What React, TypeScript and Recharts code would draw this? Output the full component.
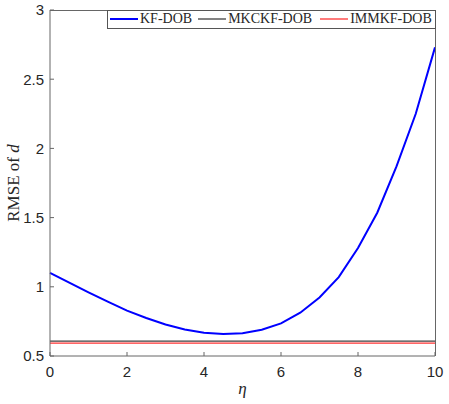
import { LineChart, Line, XAxis, YAxis, Label } from "recharts";

// eta sweep (x axis)
const eta = [0, 0.5, 1, 1.5, 2, 2.5, 3, 3.5, 4, 4.5, 5, 5.5, 6, 6.5, 7, 7.5, 8, 8.5, 9, 9.5, 10];

// RMSE of d for each filter
const kfDob = [1.1, 1.03, 0.96, 0.893, 0.828, 0.775, 0.728, 0.692, 0.668, 0.659, 0.664, 0.69, 0.736, 0.813, 0.923, 1.07, 1.28, 1.535, 1.87, 2.25, 2.73];
const mkckfDob = [0.607, 0.607, 0.607, 0.607, 0.607, 0.607, 0.607, 0.607, 0.607, 0.607, 0.607, 0.607, 0.607, 0.607, 0.607, 0.607, 0.607, 0.607, 0.607, 0.607, 0.607];
const immkfDob = [0.593, 0.593, 0.593, 0.593, 0.593, 0.593, 0.593, 0.593, 0.593, 0.593, 0.593, 0.593, 0.593, 0.593, 0.593, 0.593, 0.593, 0.593, 0.593, 0.593, 0.593];

const xTicks = [0, 2, 4, 6, 8, 10];
const yTicks = [0.5, 1, 1.5, 2, 2.5, 3];

const seriesNames = ["KF-DOB", "MKCKF-DOB", "IMMKF-DOB"];
const seriesColors = ["#0000ff", "#404040", "#ff3333"];

const data = eta.map((e, i) => ({
  eta: e,
  kf: kfDob[i],
  mkckf: mkckfDob[i],
  immkf: immkfDob[i],
}));

const axisColor = "#666666";
const tickStyle = { fill: "#262626", fontSize: 15, fontFamily: "'Liberation Sans', Arial, sans-serif" };
const serif = "'Liberation Serif', 'Times New Roman', serif";

function LegendBox() {
  return (
    <div
      style={{
        position: "absolute",
        left: 107,
        top: 10,
        boxSizing: "border-box",
        width: 329,
        height: 19,
        border: "1px solid #555",
        background: "#fff",
        display: "flex",
        alignItems: "center",
        paddingLeft: 2,
        paddingBottom: 1,
        fontFamily: serif,
        fontSize: 14,
        color: "#262626",
        lineHeight: "14px",
        whiteSpace: "nowrap",
      }}
    >
      {seriesNames.map((name, i) => (
        <div key={name} style={{ display: "flex", flexShrink: 0, alignItems: "center", marginRight: i === 0 ? 6 : 8 }}>
          <svg width={28} height={4} style={{ marginRight: 2, flexShrink: 0 }}>
            <line x1={0} y1={2} x2={28} y2={2} stroke={seriesColors[i]} strokeWidth={i === 0 ? 2 : 1.3} />
          </svg>
          <span>{name}</span>
        </div>
      ))}
    </div>
  );
}

function YTitle() {
  return (
    <text
      transform="translate(18.5,183) rotate(-90)"
      textAnchor="middle"
      fontFamily={serif}
      fontSize={17}
      fill="#262626"
    >
      RMSE of <tspan fontStyle="italic">d</tspan>
    </text>
  );
}

export default function App() {
  return (
    <div style={{ position: "absolute", left: 0, top: 0, width: 449, height: 404, background: "#fff" }}>
      <LineChart width={449} height={404} data={data} margin={{ top: 10, right: 14, bottom: 0, left: 0 }}>
        <XAxis
          dataKey="eta"
          type="number"
          domain={[0, 10]}
          ticks={xTicks}
          interval={0}
          height={48}
          stroke={axisColor}
          tickSize={-4}
          tickMargin={14}
          tick={tickStyle}
        >
          <Label value="η" position="insideBottom" offset={10} fontFamily={serif} fontStyle="italic" fontSize={17} fill="#262626" />
        </XAxis>
        <YAxis
          type="number"
          domain={[0.5, 3]}
          ticks={yTicks}
          interval={0}
          width={50}
          stroke={axisColor}
          tickSize={-4}
          tickMargin={10}
          tick={tickStyle}
        >
          <Label content={<YTitle />} />
        </YAxis>
        <Line type="linear" dataKey="kf" name="KF-DOB" stroke={seriesColors[0]} strokeWidth={2} dot={false} isAnimationActive={false} />
        <Line type="linear" dataKey="mkckf" name="MKCKF-DOB" stroke={seriesColors[1]} strokeWidth={1.3} dot={false} isAnimationActive={false} />
        <Line type="linear" dataKey="immkf" name="IMMKF-DOB" stroke={seriesColors[2]} strokeWidth={1.3} dot={false} isAnimationActive={false} />
      </LineChart>
      {/* top and right edges of the axes box */}
      <div
        style={{
          position: "absolute",
          left: 50,
          top: 10,
          width: 386,
          height: 346,
          boxSizing: "border-box",
          borderTop: `1px solid ${axisColor}`,
          borderRight: `1px solid ${axisColor}`,
          pointerEvents: "none",
        }}
      />
      <LegendBox />
    </div>
  );
}
